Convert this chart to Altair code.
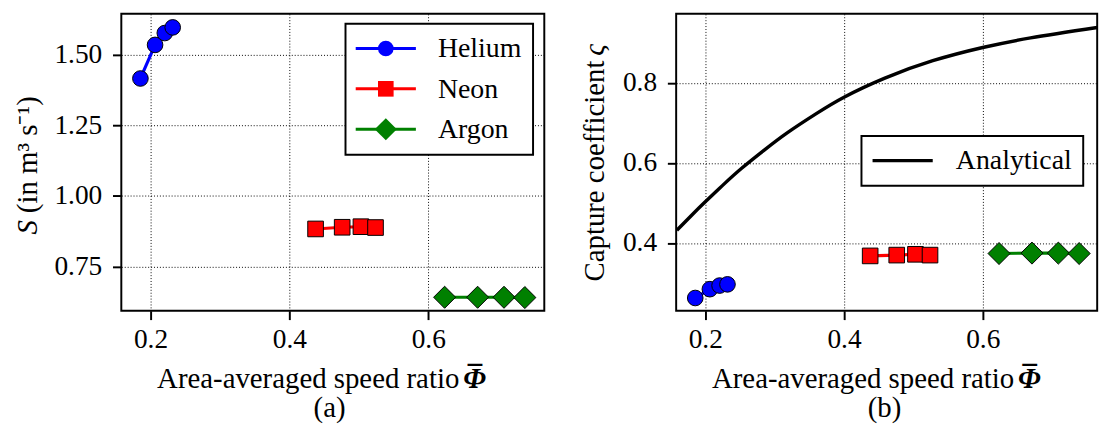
import altair as alt
import pandas as pd

FONT = "Liberation Serif, Times New Roman, Times, serif"

# ---------------- data ----------------
gases = ["Helium", "Neon", "Argon"]
gas_colors = ["#0000ff", "#ff0000", "#008000"]
diamond = "M-1.41,0L0,-1.41L1.41,0L0,1.41Z"
gas_shapes = ["circle", "square", diamond]

phi_he = [0.1855, 0.2066, 0.2206, 0.2320]
phi_ne = [0.4377, 0.4760, 0.5030, 0.5240]
phi_ar = [0.6235, 0.6710, 0.7090, 0.7390]

S_he = [1.416, 1.535, 1.577, 1.597]
S_ne = [0.883, 0.889, 0.891, 0.888]
S_ar = [0.641, 0.641, 0.641, 0.640]

cap_he = [0.263, 0.285, 0.294, 0.297]
cap_ne = [0.368, 0.370, 0.372, 0.370]
cap_ar = [0.374, 0.375, 0.375, 0.374]

curve_phi = [0.159, 0.180, 0.200, 0.225, 0.252, 0.285, 0.318, 0.360,
             0.400, 0.458, 0.528, 0.600, 0.669, 0.765]
curve_cap = [0.432, 0.469, 0.503, 0.544, 0.586, 0.632, 0.675, 0.723,
             0.764, 0.811, 0.855, 0.888, 0.912, 0.938]
curve_name = ["Analytical"]

x_ticks = [0.2, 0.4, 0.6]
y_left_ticks = [0.75, 1.00, 1.25, 1.50]
y_right_ticks = [0.4, 0.6, 0.8]

x_title = "Area-averaged speed ratio"
phi_sym = "\u03a6"
bar_sym = "\u00af"
y_left_sym = "S"
y_left_rest = "(in m\u00b3 s\u207b\u00b9)"
y_right_text = "Capture coefficient"
y_right_sym = "\u03c2"
panel_tags = ["(a)", "(b)"]

rows = []
for g, phis, ss, cs in zip(gases, [phi_he, phi_ne, phi_ar],
                           [S_he, S_ne, S_ar], [cap_he, cap_ne, cap_ar]):
    for p, s, c in zip(phis, ss, cs):
        rows.append({"gas": g, "gas_line": g, "phi": p, "S": s, "cap": c})
df = pd.DataFrame(rows)
curve_df = pd.DataFrame({"phi": curve_phi, "cap": curve_cap,
                         "curve": curve_name * len(curve_phi)})

# ---------------- helpers ----------------
W_L, W_R, H = 433, 431, 304
TICK_FS, TITLE_FS, LEG_FS = 28, 29.5, 28.5

x_scale_l = alt.Scale(domain=[0.158, 0.767], nice=False, zero=False)
x_scale_r = alt.Scale(domain=[0.158, 0.765], nice=False, zero=False)
y_scale_l = alt.Scale(domain=[0.593, 1.645], nice=False, zero=False)
y_scale_r = alt.Scale(domain=[0.231, 0.972], nice=False, zero=False)


def axis(values, fmt, pad):
    return alt.Axis(values=values, format=fmt, title=None, grid=True,
                    gridColor="black", gridDash=[1, 2], gridWidth=1,
                    gridOpacity=1, domain=False, ticks=True, tickSize=9,
                    tickWidth=2, tickColor="black", labelFont=FONT,
                    labelFontSize=TICK_FS, labelColor="black", labelPadding=pad)


def text_layer(text, x, y, angle=0, align="center", italic=False, bold=False):
    return alt.Chart(pd.DataFrame({"t": [text]})).mark_text(
        font=FONT, fontSize=TITLE_FS, angle=angle, align=align,
        baseline="alphabetic", fontStyle="italic" if italic else "normal",
        fontWeight="bold" if bold else "normal", color="black"
    ).encode(x=alt.value(x), y=alt.value(y), text="t:N")


def x_title_layers(tag):
    return [
        text_layer(x_title, 346, 383, align="right"),
        text_layer(phi_sym, 350, 383, align="left", italic=True, bold=True),
        text_layer(bar_sym, 362, 381, align="center", bold=True),
        text_layer(tag, 213.2, 413),
    ]


def line_legend(lx, ly, sym_off, lab_off, width, label_op, row_pad=12.3):
    return alt.Legend(title=None, orient="none", legendX=lx, legendY=ly,
                      symbolType="M-3.85,0L3.85,0", symbolSize=256,
                      symbolStrokeWidth=width, symbolOffset=sym_off,
                      labelOffset=lab_off, labelFont=FONT, labelFontSize=LEG_FS,
                      labelColor="black", labelOpacity=label_op,
                      rowPadding=row_pad, padding=11, fillColor="white",
                      strokeColor="black", zindex=1)


def marker_legend(lx, ly, sym_off, lab_off, row_pad=12.3):
    return alt.Legend(title=None, orient="none", legendX=lx, legendY=ly,
                      symbolSize=256, symbolStrokeColor="black",
                      symbolStrokeWidth=1, symbolOpacity=1,
                      symbolOffset=sym_off, labelOffset=lab_off,
                      labelFont=FONT, labelFontSize=LEG_FS, labelColor="black",
                      rowPadding=row_pad, padding=11, zindex=2)


fill_scale = alt.Scale(domain=gases, range=gas_colors)
shape_scale = alt.Scale(domain=gases, range=gas_shapes)
stroke_scale = alt.Scale(range=gas_colors)

LEG_X, LEG_Y, SYM_OFF, LAB_OFF = 229.5, 10.2, 16, 39.1


def gas_layers(yfield, xs, ys, yaxis, legends):
    base = alt.Chart(df)
    if legends:
        ll = line_legend(LEG_X, LEG_Y, SYM_OFF, LAB_OFF, 3, 0)
        ml = marker_legend(LEG_X, LEG_Y, SYM_OFF, LAB_OFF)
        ml2 = marker_legend(LEG_X, LEG_Y, SYM_OFF, LAB_OFF)
    else:
        ll = ml = ml2 = None
    lines = base.mark_line(strokeWidth=3.2).encode(
        x=alt.X("phi:Q", scale=xs, axis=axis(x_ticks, ".1f", 7)),
        y=alt.Y(f"{yfield}:Q", scale=ys, axis=yaxis),
        stroke=alt.Stroke("gas_line:N", sort=gases, scale=stroke_scale,
                          legend=ll),
        detail="gas:N",
    )
    points = base.mark_point(filled=True, size=256, stroke="black",
                             strokeWidth=1, opacity=1).encode(
        x=alt.X("phi:Q", scale=xs),
        y=alt.Y(f"{yfield}:Q", scale=ys),
        fill=alt.Fill("gas:N", scale=fill_scale, legend=ml),
        shape=alt.Shape("gas:N", scale=shape_scale, legend=ml2),
    )
    return lines, points


# ---------------- left panel ----------------
l_lines, l_points = gas_layers("S", x_scale_l, y_scale_l,
                               axis(y_left_ticks, ".2f", 11), True)
left = alt.layer(
    l_lines, l_points,
    text_layer(y_left_sym, -86.5, 226, angle=270, align="left", italic=True),
    text_layer(y_left_rest, -86.5, 204, angle=270, align="left"),
    *x_title_layers(panel_tags[0]),
).properties(width=W_L, height=H)

# ---------------- right panel ----------------
r_lines, r_points = gas_layers("cap", x_scale_r, y_scale_r,
                               axis(y_right_ticks, ".1f", 11), False)
curve = alt.Chart(curve_df).mark_line(strokeWidth=3.5, interpolate="natural").encode(
    x=alt.X("phi:Q", scale=x_scale_r),
    y=alt.Y("cap:Q", scale=y_scale_r),
    color=alt.Color("curve:N", scale=alt.Scale(domain=curve_name, range=["black"]),
                    legend=line_legend(189.7, 125, 16.9, 40.2, 3.5, 1)),
)
right = alt.layer(
    curve, r_lines, r_points,
    text_layer(y_right_text, -74, 274, angle=270, align="left"),
    text_layer(y_right_sym, -74, 31, angle=270, align="right", italic=True),
    *x_title_layers(panel_tags[1]),
).properties(width=W_R, height=H)

chart = alt.hconcat(left, right, spacing=135, bounds="flush").resolve_scale(
    stroke="independent", fill="independent", shape="independent",
    color="independent"
).resolve_legend(
    stroke="independent", fill="independent", shape="independent",
    color="independent"
).configure_view(stroke="black", strokeWidth=2).configure_legend(
    strokeWidth=2
).properties(
    padding={"left": 4, "top": 0, "right": 0, "bottom": 0}
)

chart.save("out.html", embed_options={"renderer": "svg", "actions": False})
